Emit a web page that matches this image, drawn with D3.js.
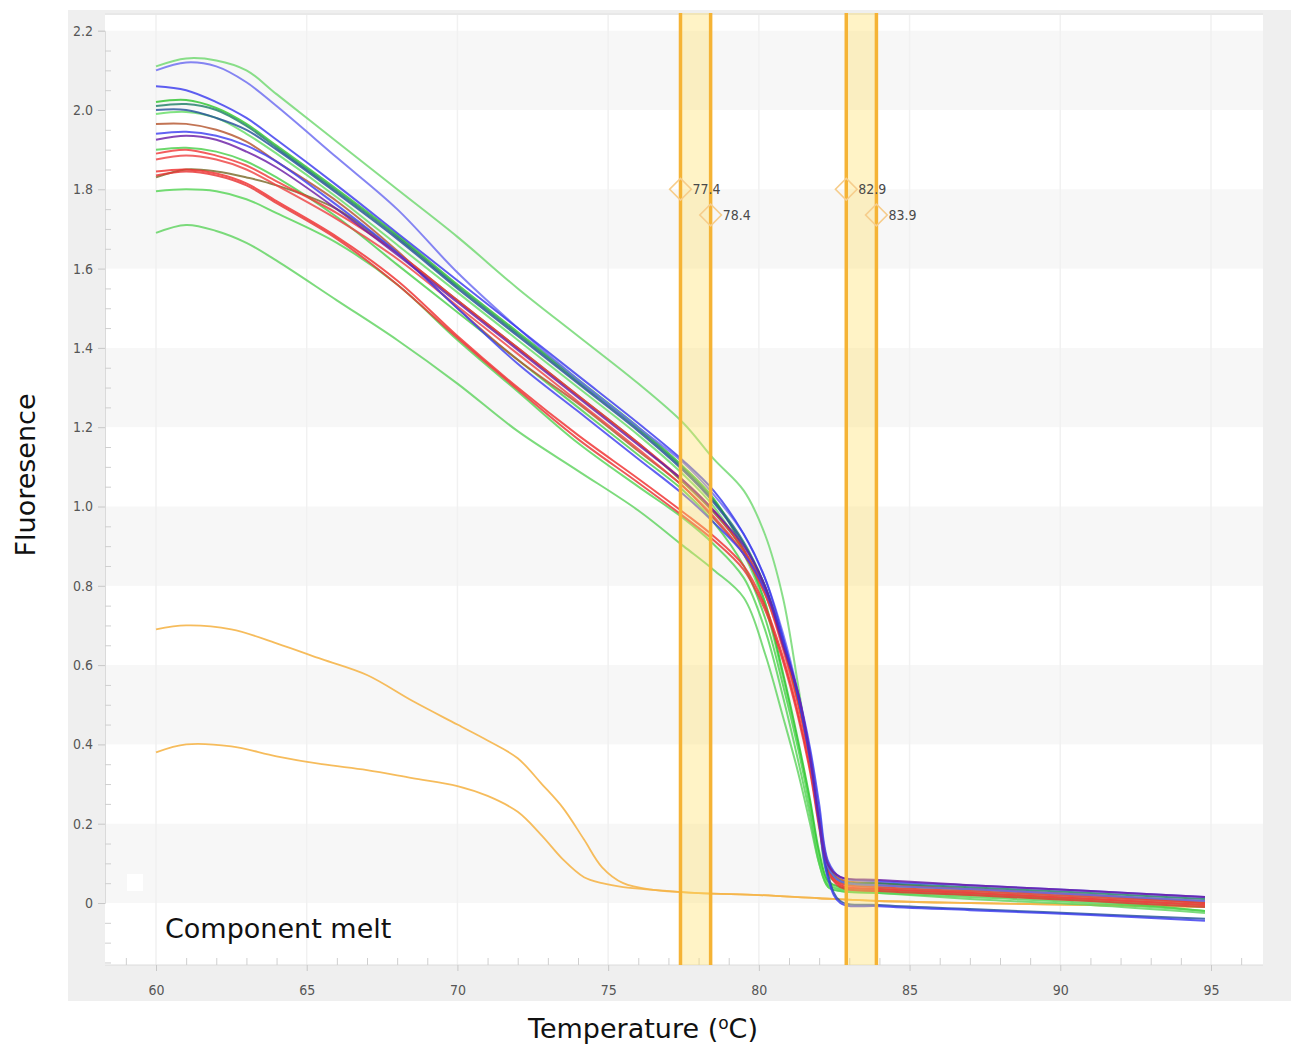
<!DOCTYPE html>
<html><head><meta charset="utf-8">
<script src="https://cdn.jsdelivr.net/npm/d3@7"></script>
<style>body{margin:0;background:#fff}svg{display:block}</style>
</head><body><svg id="chart" width="1291" height="1046"></svg>
<script>
// ---------- DATA ----------
const temps = [60, 61, 62, 63, 64, 66, 68, 70, 72, 74, 76, 77.5, 78.5, 79.5, 80.2, 80.8, 81.3, 81.7, 82.0, 82.3, 82.7, 84, 87, 91, 94.8];

const seriesNames = ["g1","b1","b2","g2","t1","db1","g3","br1","b3","p1","g4","r1","r2","r3","r4","ol1","g5","g6"];
const seriesColors = ["#6fd86f","#6a6af0","#3a3aee","#2ec42e","#1f7f66","#25509a","#66dd66","#b5562e","#4040f0","#6b1fa6","#4cd04c","#f03a3a","#ee4444","#f03030","#e83333","#7a6a2a","#55d455","#5fd35f"];

const g1  = [2.11, 2.13, 2.125, 2.10, 2.04, 1.92, 1.80, 1.68, 1.55, 1.43, 1.31, 1.21, 1.12, 1.04, 0.93, 0.77, 0.55, 0.36, 0.20, 0.07, 0.05, 0.04, 0.03, 0.015, 0.0];
const b1  = [2.10, 2.12, 2.11, 2.07, 2.01, 1.88, 1.75, 1.59, 1.45, 1.32, 1.20, 1.11, 1.03, 0.93, 0.82, 0.68, 0.53, 0.38, 0.23, 0.09, 0.055, 0.045, 0.035, 0.02, 0.005];
const b2  = [2.06, 2.05, 2.02, 1.98, 1.925, 1.81, 1.69, 1.57, 1.45, 1.33, 1.21, 1.115, 1.04, 0.93, 0.82, 0.67, 0.52, 0.36, 0.20, 0.06, 0.0, -0.008, -0.018, -0.03, -0.045];
const g2  = [2.02, 2.025, 2.005, 1.965, 1.91, 1.80, 1.685, 1.56, 1.44, 1.32, 1.20, 1.10, 1.02, 0.89, 0.76, 0.58, 0.41, 0.26, 0.13, 0.055, 0.04, 0.035, 0.025, 0.01, -0.005];
const t1  = [2.01, 2.015, 2.0, 1.96, 1.905, 1.795, 1.68, 1.555, 1.435, 1.315, 1.195, 1.095, 1.015, 0.91, 0.80, 0.66, 0.52, 0.37, 0.22, 0.09, 0.055, 0.05, 0.04, 0.025, 0.01];
const db1 = [2.00, 2.00, 1.98, 1.95, 1.90, 1.79, 1.675, 1.55, 1.43, 1.31, 1.19, 1.09, 1.01, 0.905, 0.80, 0.665, 0.525, 0.375, 0.225, 0.07, 0.005, -0.005, -0.015, -0.028, -0.04];
const g3  = [1.99, 1.995, 1.98, 1.94, 1.89, 1.78, 1.66, 1.54, 1.42, 1.30, 1.18, 1.08, 1.00, 0.88, 0.75, 0.57, 0.40, 0.25, 0.12, 0.05, 0.035, 0.03, 0.02, 0.005, -0.01];
const br1 = [1.965, 1.965, 1.95, 1.92, 1.87, 1.77, 1.645, 1.50, 1.37, 1.26, 1.14, 1.05, 0.97, 0.88, 0.78, 0.65, 0.51, 0.37, 0.23, 0.10, 0.06, 0.05, 0.035, 0.02, 0.0];
const b3  = [1.94, 1.945, 1.935, 1.91, 1.87, 1.76, 1.64, 1.50, 1.36, 1.24, 1.12, 1.03, 0.96, 0.88, 0.79, 0.66, 0.53, 0.39, 0.25, 0.105, 0.065, 0.055, 0.045, 0.03, 0.015];
const p1  = [1.925, 1.935, 1.925, 1.895, 1.855, 1.75, 1.635, 1.515, 1.395, 1.275, 1.155, 1.065, 0.99, 0.90, 0.80, 0.65, 0.53, 0.37, 0.21, 0.095, 0.066, 0.058, 0.045, 0.03, 0.015];
const g4  = [1.90, 1.905, 1.895, 1.87, 1.83, 1.73, 1.61, 1.49, 1.37, 1.25, 1.13, 1.04, 0.96, 0.85, 0.72, 0.55, 0.39, 0.24, 0.11, 0.045, 0.035, 0.03, 0.02, 0.005, -0.02];
const r1  = [1.89, 1.90, 1.885, 1.86, 1.82, 1.74, 1.64, 1.52, 1.40, 1.28, 1.16, 1.065, 0.99, 0.89, 0.79, 0.65, 0.51, 0.36, 0.22, 0.09, 0.05, 0.04, 0.03, 0.015, 0.0];
const r2  = [1.875, 1.885, 1.875, 1.85, 1.81, 1.725, 1.625, 1.505, 1.385, 1.265, 1.145, 1.05, 0.975, 0.88, 0.78, 0.64, 0.50, 0.355, 0.215, 0.085, 0.045, 0.035, 0.025, 0.01, -0.005];
const r3  = [1.845, 1.85, 1.84, 1.815, 1.77, 1.68, 1.57, 1.43, 1.30, 1.18, 1.07, 0.985, 0.925, 0.85, 0.75, 0.62, 0.48, 0.34, 0.20, 0.085, 0.045, 0.035, 0.025, 0.01, -0.005];
const r4  = [1.835, 1.845, 1.835, 1.81, 1.765, 1.675, 1.56, 1.425, 1.295, 1.17, 1.06, 0.975, 0.915, 0.84, 0.74, 0.61, 0.47, 0.33, 0.19, 0.08, 0.04, 0.03, 0.02, 0.005, -0.01];
const ol1 = [1.83, 1.85, 1.845, 1.83, 1.81, 1.75, 1.64, 1.52, 1.40, 1.28, 1.16, 1.06, 0.985, 0.89, 0.79, 0.65, 0.51, 0.36, 0.22, 0.095, 0.055, 0.045, 0.035, 0.02, 0.005];
const g5  = [1.795, 1.80, 1.795, 1.775, 1.74, 1.665, 1.56, 1.42, 1.29, 1.16, 1.05, 0.97, 0.905, 0.82, 0.69, 0.52, 0.36, 0.22, 0.10, 0.04, 0.03, 0.025, 0.015, 0.0, -0.02];
const g6  = [1.69, 1.71, 1.695, 1.665, 1.62, 1.52, 1.42, 1.31, 1.19, 1.09, 0.99, 0.90, 0.84, 0.77, 0.63, 0.47, 0.33, 0.20, 0.10, 0.04, 0.03, 0.025, 0.01, -0.005, -0.025];

const orangeTemps = [60, 61, 62.5, 64, 65.5, 67, 68.5, 70, 71, 72, 72.8, 73.5, 74.2, 74.8, 75.5, 76.5, 78, 80, 82, 84, 87, 91, 94.8];
const orangeHigh = [0.69, 0.70, 0.69, 0.655, 0.615, 0.575, 0.51, 0.45, 0.41, 0.365, 0.30, 0.24, 0.16, 0.09, 0.05, 0.033, 0.025, 0.02, 0.012, 0.005, 0.0, -0.005, -0.01];
const orangeLow  = [0.38, 0.40, 0.395, 0.37, 0.35, 0.335, 0.315, 0.295, 0.27, 0.23, 0.17, 0.11, 0.065, 0.05, 0.04, 0.033, 0.025, 0.02, 0.012, 0.005, 0.0, -0.005, -0.01];
const orangeColor = "#f5b54a";

const bandRanges = [[77.4, 78.4], [82.9, 83.9]];
const markerTemps  = [77.4, 78.4, 82.9, 83.9];
const markerLevels = [1.80, 1.735, 1.80, 1.735];
const markerLabels = ["77.4", "78.4", "82.9", "83.9"];

const xTickValues = [60, 65, 70, 75, 80, 85, 90, 95];
const yTickValues = [0, 0.2, 0.4, 0.6, 0.8, 1.0, 1.2, 1.4, 1.6, 1.8, 2.0, 2.2];
const yTickLabels = ["0", "0.2", "0.4", "0.6", "0.8", "1.0", "1.2", "1.4", "1.6", "1.8", "2.0", "2.2"];

const xTitle = "Temperature (";
const yTitle = "Fluoresence";
const panelTitle = "Component melt";

// ---------- LAYOUT ----------
const seriesValues = [g1,b1,b2,g2,t1,db1,g3,br1,b3,p1,g4,r1,r2,r3,r4,ol1,g5,g6];
const plot = {left: 105, right: 1263, top: 13, bottom: 965};
const x = d3.scaleLinear().domain([60, 95]).range([156, 1211]);
const y = d3.scaleLinear().domain([0, 2.2]).range([903, 30.7]);

const svg = d3.select("#chart");
const tickFont = "'Liberation Sans Narrow','DejaVu Sans Condensed','Arial Narrow',sans-serif";

// gray frame
svg.append("rect").attr("x", 68).attr("y", 10).attr("width", 1291 - 68).attr("height", 991).attr("fill", "#efefef");
// plot area
svg.append("rect").attr("x", plot.left).attr("y", plot.top).attr("width", plot.right - plot.left)
  .attr("height", plot.bottom - plot.top).attr("fill", "#ffffff");

// horizontal stripes
const stripes = [];
for (let i = 0; i < yTickValues.length - 1; i++) {
  if (i % 2 === 0) stripes.push([yTickValues[i], yTickValues[i + 1]]);
}
svg.append("g").selectAll("rect").data(stripes).join("rect")
  .attr("x", plot.left).attr("width", plot.right - plot.left)
  .attr("y", d => y(d[1])).attr("height", d => y(d[0]) - y(d[1]))
  .attr("fill", "#f7f7f7");

// vertical faint grid
svg.append("g").selectAll("line").data(xTickValues).join("line")
  .attr("x1", d => x(d)).attr("x2", d => x(d)).attr("y1", plot.top).attr("y2", plot.bottom)
  .attr("stroke", "#f1f1f1").attr("stroke-width", 1.5);

// top border
svg.append("line").attr("x1", plot.left).attr("x2", plot.right).attr("y1", plot.top + 1).attr("y2", plot.top + 1)
  .attr("stroke", "#e8e8e8").attr("stroke-width", 2);

// small white square
svg.append("rect").attr("x", 127).attr("y", 874).attr("width", 16).attr("height", 17).attr("fill", "#ffffff");

// ---------- AXES ----------
const yAxis = d3.axisLeft(y).tickValues(yTickValues).tickFormat((d, i) => yTickLabels[i]).tickSize(7).tickPadding(5);
const gy = svg.append("g").attr("transform", `translate(${plot.left},0)`).call(yAxis);
gy.select(".domain").attr("stroke", "#dadada");
gy.selectAll(".tick line").attr("stroke", "#c8c8c8");
gy.selectAll("text").attr("font-family", tickFont).attr("font-size", 14).attr("fill", "#555");

const yMinor = d3.range(-0.15, 2.2001, 0.05).filter(v => Math.abs(Math.round(v * 5) - v * 5) > 0.01);
const yMinorAxis = d3.axisRight(y).tickValues(yMinor).tickSize(6).tickFormat("");
const gym = svg.append("g").attr("transform", `translate(${plot.left},0)`).call(yMinorAxis);
gym.select(".domain").remove();
gym.selectAll(".tick line").attr("stroke", "#cfcfcf");

const xAxis = d3.axisBottom(x).tickValues(xTickValues).tickSize(6).tickPadding(14);
const gx = svg.append("g").attr("transform", `translate(0,${plot.bottom})`).call(xAxis);
gx.select(".domain").attr("stroke", "#dcdcdc").attr("d", `M${plot.left},0H${plot.right}`);
gx.selectAll(".tick line").attr("stroke", "#c8c8c8");
gx.selectAll("text").attr("font-family", tickFont).attr("font-size", 14).attr("fill", "#555");

const xMinor = d3.range(59, 97, 1).filter(v => v % 5 !== 0);
const xMinorAxis = d3.axisTop(x).tickValues(xMinor).tickSize(7).tickFormat("");
const gxm = svg.append("g").attr("transform", `translate(0,${plot.bottom})`).call(xMinorAxis);
gxm.select(".domain").remove();
gxm.selectAll(".tick line").attr("stroke", "#cfcfcf");

// ---------- LINES ----------
svg.append("clipPath").attr("id", "clip").append("rect")
  .attr("x", plot.left).attr("y", plot.top).attr("width", plot.right - plot.left).attr("height", plot.bottom - plot.top);

const line = d3.line().x(d => x(d[0])).y(d => y(d[1])).curve(d3.curveCatmullRom.alpha(0.5));
const lines = svg.append("g").attr("clip-path", "url(#clip)");

lines.selectAll("path.orange").data([orangeHigh, orangeLow]).join("path")
  .attr("class", "orange")
  .attr("d", vals => line(orangeTemps.map((t, i) => [t, vals[i]])))
  .attr("fill", "none").attr("stroke", orangeColor).attr("stroke-width", 1.8).attr("stroke-opacity", 0.9);

// draw order: greens first, then reds, blues, purple on top
const order = [17, 16, 10, 6, 3, 0, 15, 7, 14, 13, 12, 11, 4, 5, 1, 8, 2, 9];
lines.selectAll("path.s").data(order).join("path")
  .attr("class", "s")
  .attr("d", k => line(temps.map((t, i) => [t, seriesValues[k][i]])))
  .attr("fill", "none").attr("stroke", k => seriesColors[k])
  .attr("stroke-width", 2).attr("stroke-opacity", 0.82)
  .attr("stroke-linejoin", "round");

// ---------- BANDS ----------
const bands = svg.append("g");
bands.selectAll("rect").data(bandRanges).join("rect")
  .attr("x", d => x(d[0])).attr("width", d => x(d[1]) - x(d[0]))
  .attr("y", plot.top).attr("height", plot.bottom - plot.top)
  .attr("fill", "#ffe06a").attr("fill-opacity", 0.38);
bands.selectAll("line").data(bandRanges.flat()).join("line")
  .attr("x1", d => x(d)).attr("x2", d => x(d)).attr("y1", plot.top).attr("y2", plot.bottom)
  .attr("stroke", "#f5b335").attr("stroke-width", 3.5);

// markers
const diamond = d3.symbol().type(d3.symbolSquare).size(235);
const mk = svg.append("g");
mk.selectAll("path").data(markerTemps).join("path")
  .attr("d", diamond)
  .attr("transform", (d, i) => `translate(${x(d)},${y(markerLevels[i])}) rotate(45)`)
  .attr("fill", "none").attr("stroke", "#f6cd8c").attr("stroke-width", 1.6);
mk.selectAll("text").data(markerTemps).join("text")
  .attr("x", d => x(d) + 12).attr("y", (d, i) => y(markerLevels[i]))
  .attr("dy", "0.35em")
  .attr("font-family", tickFont).attr("font-size", 14).attr("fill", "#4a4a4a")
  .text((d, i) => markerLabels[i]);

// ---------- TITLES ----------
const titleFont = "'DejaVu Sans',Verdana,sans-serif";
svg.append("text").attr("x", 165).attr("y", 938)
  .attr("font-family", titleFont).attr("font-size", 27).attr("fill", "#111").text(panelTitle);

svg.append("text").attr("transform", "translate(35,475) rotate(-90)")
  .attr("text-anchor", "middle").attr("font-family", titleFont).attr("font-size", 27).attr("fill", "#111")
  .text(yTitle);

const xt = svg.append("text").attr("x", 643).attr("y", 1038).attr("text-anchor", "middle")
  .attr("font-family", titleFont).attr("font-size", 27).attr("fill", "#111");
xt.append("tspan").text(xTitle);
xt.append("tspan").attr("font-size", 17).attr("dy", -9).text("o");
xt.append("tspan").attr("dy", 9).text("C)");
</script>
</body></html>
